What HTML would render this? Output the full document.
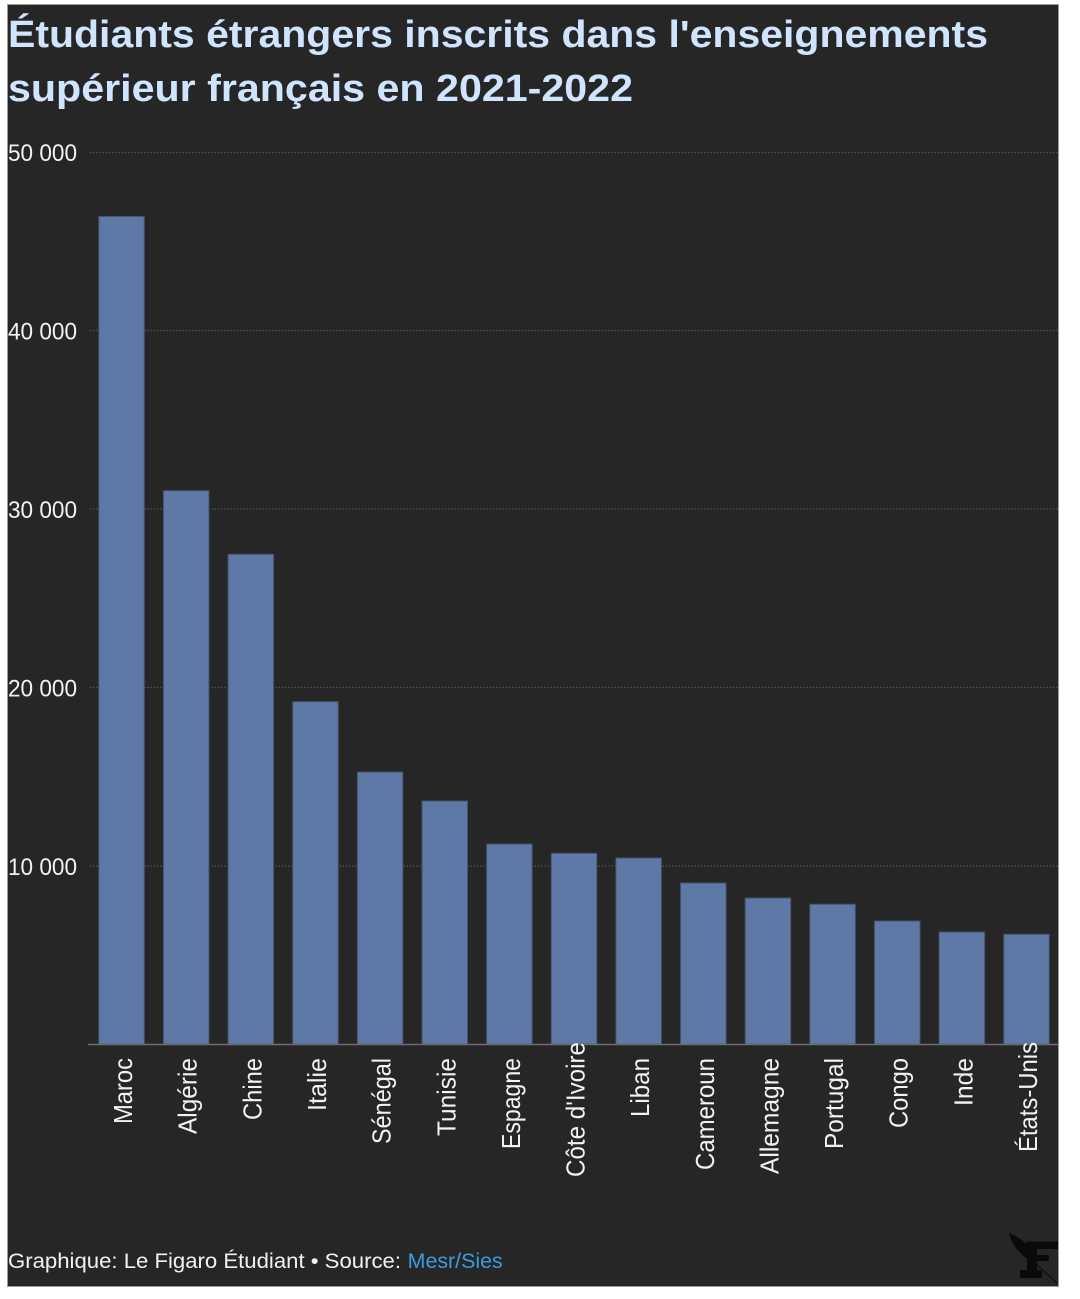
<!DOCTYPE html>
<html>
<head>
<meta charset="utf-8">
<style>
  html, body { margin: 0; padding: 0; background: #ffffff; }
  svg { display: block; }
  text { font-family: "Liberation Sans", "DejaVu Sans", sans-serif; }
</style>
</head>
<body>
<svg width="1080" height="1299" viewBox="0 0 1080 1299" xmlns="http://www.w3.org/2000/svg">
  <!-- panel -->
  <rect x="7" y="4" width="1052" height="1283" fill="#9a9a9a"/>
  <rect x="8" y="5" width="1050" height="1281" fill="#262626"/>

  <!-- title -->
  <text x="8" y="47" font-size="38" font-weight="bold" fill="#cfe5ff" textLength="980" lengthAdjust="spacingAndGlyphs">Étudiants étrangers inscrits dans l'enseignements</text>
  <text x="8" y="101" font-size="38" font-weight="bold" fill="#cfe5ff" textLength="625" lengthAdjust="spacingAndGlyphs">supérieur français en 2021-2022</text>

  <!-- gridlines -->
  <g stroke="#5a5a5a" stroke-width="1.2" stroke-dasharray="1.2,2">
    <line x1="90" y1="152.5" x2="1058" y2="152.5"/>
    <line x1="90" y1="330.5" x2="1058" y2="330.5"/>
    <line x1="90" y1="509" x2="1058" y2="509"/>
    <line x1="90" y1="687.5" x2="1058" y2="687.5"/>
    <line x1="90" y1="866" x2="1058" y2="866"/>
  </g>

  <!-- y tick labels -->
  <g font-size="24" fill="#f2f2f2">
    <text x="8" y="161" textLength="69" lengthAdjust="spacingAndGlyphs">50 000</text>
    <text x="8" y="339.5" textLength="69" lengthAdjust="spacingAndGlyphs">40 000</text>
    <text x="8" y="518" textLength="69" lengthAdjust="spacingAndGlyphs">30 000</text>
    <text x="8" y="696.5" textLength="69" lengthAdjust="spacingAndGlyphs">20 000</text>
    <text x="8" y="875" textLength="69" lengthAdjust="spacingAndGlyphs">10 000</text>
  </g>

  <!-- bars -->
  <g fill="#5e79a5" stroke="#445470" stroke-width="1">
    <rect x="98.8" y="216.5" width="45.5" height="827.5"/>
    <rect x="163.44" y="490.7" width="45.5" height="553.3"/>
    <rect x="228.08" y="554.3" width="45.5" height="489.7"/>
    <rect x="292.72" y="701.7" width="45.5" height="342.3"/>
    <rect x="357.36" y="772" width="45.5" height="272"/>
    <rect x="422.0" y="801" width="45.5" height="243"/>
    <rect x="486.64" y="844" width="45.5" height="200"/>
    <rect x="551.28" y="853.3" width="45.5" height="190.7"/>
    <rect x="615.92" y="858" width="45.5" height="186"/>
    <rect x="680.56" y="883" width="45.5" height="161"/>
    <rect x="745.2" y="898" width="45.5" height="146"/>
    <rect x="809.84" y="904.3" width="45.5" height="139.7"/>
    <rect x="874.48" y="921" width="45.5" height="123"/>
    <rect x="939.12" y="932" width="45.5" height="112"/>
    <rect x="1003.76" y="934.3" width="45.5" height="109.7"/>
  </g>

  <!-- x axis -->
  <line x1="88" y1="1044.5" x2="1058" y2="1044.5" stroke="#6e6e6e" stroke-width="1.6"/>

  <!-- category labels -->
  <g font-size="26" fill="#f2f2f2" text-anchor="end">
    <text transform="translate(132.05,1058) rotate(-90)" textLength="66" lengthAdjust="spacingAndGlyphs">Maroc</text>
    <text transform="translate(196.69,1058) rotate(-90)" textLength="76" lengthAdjust="spacingAndGlyphs">Algérie</text>
    <text transform="translate(261.33,1058) rotate(-90)" textLength="62" lengthAdjust="spacingAndGlyphs">Chine</text>
    <text transform="translate(325.97,1058) rotate(-90)" textLength="53" lengthAdjust="spacingAndGlyphs">Italie</text>
    <text transform="translate(390.61,1058) rotate(-90)" textLength="86" lengthAdjust="spacingAndGlyphs">Sénégal</text>
    <text transform="translate(455.25,1058) rotate(-90)" textLength="78" lengthAdjust="spacingAndGlyphs">Tunisie</text>
    <text transform="translate(519.89,1058) rotate(-90)" textLength="91" lengthAdjust="spacingAndGlyphs">Espagne</text>
    <text transform="translate(584.53,1042) rotate(-90)" textLength="135" lengthAdjust="spacingAndGlyphs">Côte d'Ivoire</text>
    <text transform="translate(649.17,1058) rotate(-90)" textLength="59" lengthAdjust="spacingAndGlyphs">Liban</text>
    <text transform="translate(713.81,1058) rotate(-90)" textLength="112" lengthAdjust="spacingAndGlyphs">Cameroun</text>
    <text transform="translate(778.45,1058) rotate(-90)" textLength="116" lengthAdjust="spacingAndGlyphs">Allemagne</text>
    <text transform="translate(843.09,1058) rotate(-90)" textLength="91" lengthAdjust="spacingAndGlyphs">Portugal</text>
    <text transform="translate(907.73,1058) rotate(-90)" textLength="70" lengthAdjust="spacingAndGlyphs">Congo</text>
    <text transform="translate(972.37,1058) rotate(-90)" textLength="48" lengthAdjust="spacingAndGlyphs">Inde</text>
    <text transform="translate(1037.01,1042) rotate(-90)" textLength="110" lengthAdjust="spacingAndGlyphs">États-Unis</text>
  </g>

  <!-- footer -->
  <text x="8" y="1268" font-size="21" fill="#f2f2f2" textLength="393" lengthAdjust="spacingAndGlyphs">Graphique: Le Figaro Étudiant • Source:</text>
  <text x="407.7" y="1268" font-size="21" fill="#3d9be0" textLength="95" lengthAdjust="spacingAndGlyphs">Mesr/Sies</text>

  <!-- logo -->
  <g fill="#0a0a0a">
    <path d="M1009,1233 C1021,1238 1033,1246 1035,1263 C1025,1259 1013,1249 1009,1233 Z"/>
    <rect x="1026" y="1241.5" width="32" height="7.5"/>
    <rect x="1027" y="1241.5" width="10" height="30"/>
    <rect x="1036" y="1255" width="13" height="6"/>
    <rect x="1020" y="1270" width="22" height="8"/>
  </g>
  <line x1="1034" y1="1262" x2="1057" y2="1283" stroke="#0a0a0a" stroke-width="1"/>
</svg>
</body>
</html>
